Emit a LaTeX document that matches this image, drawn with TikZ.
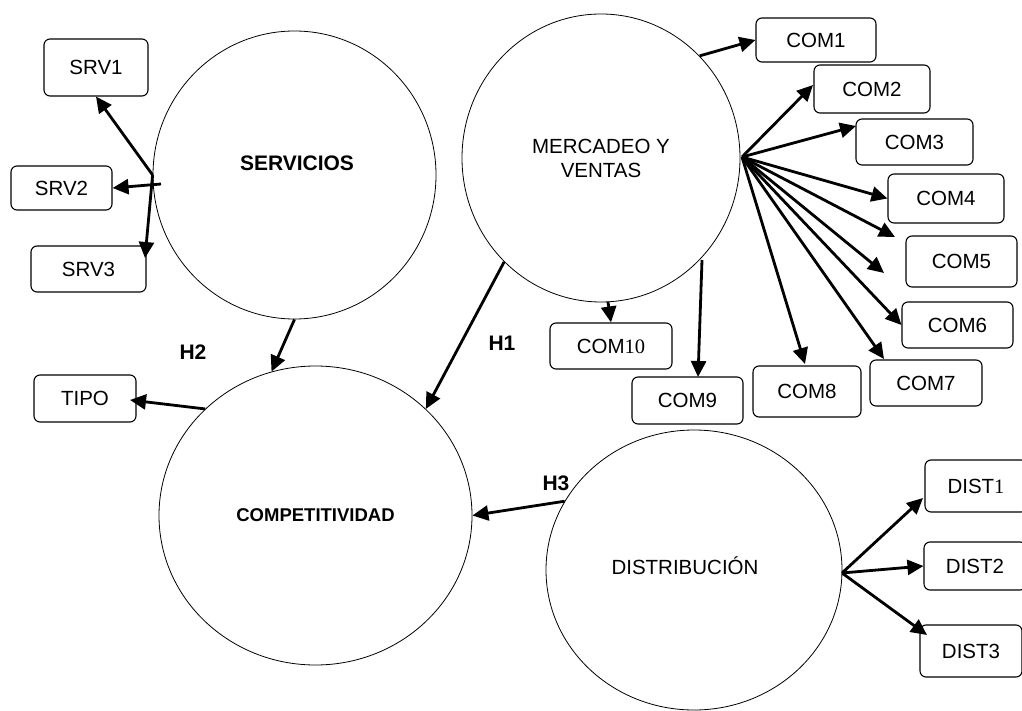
\documentclass[tikz,border=0pt]{standalone}
\usepackage{fontspec}
\setmainfont{Liberation Sans}
\newfontfamily\serifdig{Liberation Serif}
\usetikzlibrary{arrows.meta,shapes.geometric,calc}
\begin{document}
\begin{tikzpicture}[x=1pt,y=-1pt,
  bubble/.style={draw, line width=0.8pt, ellipse, inner sep=0pt},
  box/.style={draw, line width=1.1pt, rounded corners=6pt, inner sep=0pt, font=\fontsize{20.5}{24}\selectfont},
  conn/.style={line width=2.8pt, -{Triangle[length=16pt,width=15pt]}},
  hlabel/.style={font=\fontsize{21}{24}\selectfont\bfseries},
  plain/.style={font=\fontsize{20.5}{24}\selectfont}]
\useasboundingbox (0,0) rectangle (1022,711);
\clip (0,0) rectangle (1022,711);
\fill[white] (0,0) rectangle (1022,711);

% bubbles
\node[bubble, minimum width=283pt, minimum height=288pt] (serv) at (294.5,175) {};
\node[hlabel, anchor=base] (servtxt) at (297,170.5) {SERVICIOS};
\node[bubble, minimum width=278pt, minimum height=288pt, align=center, plain] (merc) at (601,158) {MERCADEO Y\\VENTAS};
\node[bubble, minimum width=313pt, minimum height=299pt, font=\fontsize{18.5}{22}\selectfont\bfseries] (comp) at (315.5,515.5) {COMPETITIVIDAD};
\node[bubble, minimum width=296pt, minimum height=280pt] (dist) at (694,570) {};
\node[plain, anchor=base] (disttxt) at (685,574) {DISTRIBUCIÓN};

% boxes
\node[box, minimum width=104pt, minimum height=57pt] (srv1) at (96,67.5) {SRV1};
\node[box, minimum width=101pt, minimum height=44pt] (srv2) at (61.5,188) {SRV2};
\node[box, minimum width=115pt, minimum height=46pt] (srv3) at (88.5,269) {SRV3};
\node[box, minimum width=102pt, minimum height=47pt] (tipo) at (85,398.5) {TIPO};
\node[box, minimum width=120pt, minimum height=44pt] (com1) at (816,40) {COM1};
\node[box, minimum width=116pt, minimum height=48pt] (com2) at (872,89) {COM2};
\node[box, minimum width=117pt, minimum height=46pt] (com3) at (914.5,142) {COM3};
\node[box, minimum width=116pt, minimum height=49pt] (com4) at (946,198.5) {COM4};
\node[box, minimum width=111pt, minimum height=51pt] (com5) at (961.5,261.5) {COM5};
\node[box, minimum width=111pt, minimum height=46pt] (com6) at (957.5,325) {COM6};
\node[box, minimum width=112pt, minimum height=46pt] (com7) at (926,383) {COM7};
\node[box, minimum width=108pt, minimum height=51pt] (com8) at (807,391.5) {COM8};
\node[box, minimum width=111pt, minimum height=47pt] (com9) at (687.5,400.5) {COM9};
\node[box, minimum width=122pt, minimum height=46pt] (com10) at (611,346) {COM{\serifdig 10}};
\node[box, minimum width=102pt, minimum height=52pt] (dist1) at (976,486) {DIST{\serifdig 1}};
\node[box, minimum width=102pt, minimum height=48pt] (dist2) at (975,566) {DIST2};
\node[box, minimum width=102pt, minimum height=52pt] (dist3) at (971,651) {DIST3};

% hypothesis labels
\node[hlabel] (h1) at (502,343) {H1};
\node[hlabel] (h2) at (193,352) {H2};
\node[hlabel] (h3) at (556,483) {H3};

% free ends / hubs
\coordinate (sh2) at (161,184);
\coordinate (s3tip) at (145,258);
\coordinate (mh) at (742,157);
\coordinate (c2tip) at (813,85);
\coordinate (c3tip) at (856,126);
\coordinate (c5tip) at (895,237);
\coordinate (c5btip) at (884,273);
\coordinate (c7tip) at (884,359);
\coordinate (c8tip) at (805,364);
\coordinate (c9s) at (702,260);
\coordinate (c9tip) at (698,377);
\coordinate (c10s) at (608,302);
\coordinate (tipotip) at (130,400);
\coordinate (dh) at (842,573);
\coordinate (d1tip) at (923,498);
\coordinate (d3tip) at (927,635);

% servicios
\draw[conn] (serv.west) -- (srv1.south);
\draw[conn] (sh2) -- (srv2.east);
\draw[conn] (serv.west) -- (s3tip);

% mercadeo
\draw[conn] (merc.46) -- (com1.west);
\draw[conn] (mh) -- (c2tip);
\draw[conn] (mh) -- (c3tip);
\draw[conn] (mh) -- (com4.west);
\draw[conn] (mh) -- (c5tip);
\draw[conn] (mh) -- (c5btip);
\draw[conn] (mh) -- (com6.west);
\draw[conn] (mh) -- (c7tip);
\draw[conn] (mh) -- (c8tip);
\draw[conn] (c9s) -- (c9tip);
\draw[conn] (c10s) -- (com10.north);

% hypotheses
\draw[conn] (merc.-133) -- (comp.44);
\draw[conn] (serv.south) -- (comp.107);
\draw[conn] (dist.152) -- (comp.east);
\draw[conn] (comp.136) -- (tipotip);

% distribucion
\draw[conn] (dh) -- (d1tip);
\draw[conn] (dh) -- (dist2.west);
\draw[conn] (dh) -- (d3tip);
\end{tikzpicture}
\end{document}
